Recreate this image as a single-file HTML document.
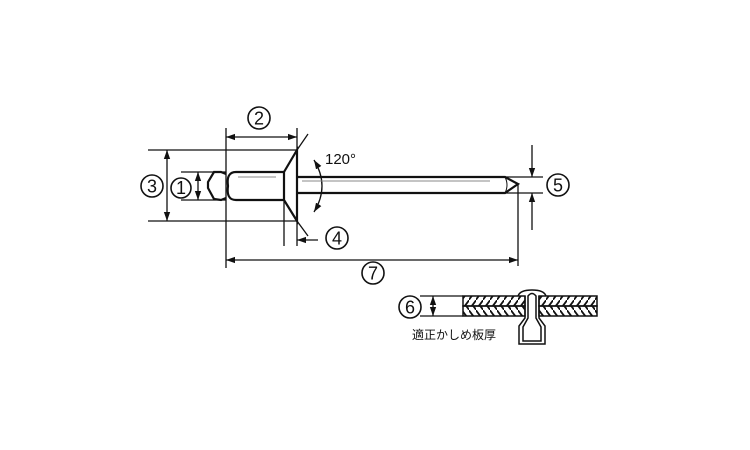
<!DOCTYPE html>
<html><head><meta charset="utf-8"><style>
html,body{margin:0;padding:0;background:#fff;}
svg{display:block;}
text{font-family:"Liberation Sans","Noto Sans CJK JP",sans-serif;fill:#111;}
</style></head><body>
<svg width="750" height="450" viewBox="0 0 750 450" xmlns="http://www.w3.org/2000/svg">
<defs>
<marker id="a" viewBox="0 0 10 10" refX="10" refY="5" markerWidth="9" markerHeight="9" orient="auto-start-reverse" markerUnits="userSpaceOnUse"><path d="M0,1.5 L10,5 L0,8.5 z" fill="#111"/></marker>
<pattern id="h1" width="7" height="10" patternUnits="userSpaceOnUse"><path d="M-1,11 L8,-1" stroke="#111" stroke-width="1.8"/></pattern>
<pattern id="h2" width="7" height="10" patternUnits="userSpaceOnUse"><path d="M-1,-1 L8,11" stroke="#111" stroke-width="1.8"/></pattern>
</defs>
<g stroke="#111" fill="none" stroke-width="1.3">
<line x1="226" y1="128" x2="226" y2="268"/>
<line x1="297" y1="128" x2="297" y2="246"/>
<line x1="284" y1="200" x2="284" y2="246"/>
<line x1="148" y1="150" x2="297" y2="150"/>
<line x1="148" y1="221" x2="297" y2="221"/>
<line x1="181" y1="172" x2="226" y2="172"/>
<line x1="181" y1="200" x2="226" y2="200"/>
<line x1="518" y1="184" x2="518" y2="266"/>
<line x1="505" y1="177" x2="543" y2="177"/>
<line x1="505" y1="193" x2="543" y2="193"/>
<line x1="297" y1="150" x2="308" y2="134"/>
<line x1="297" y1="221" x2="308" y2="236"/>
<line x1="226" y1="137" x2="297" y2="137" marker-start="url(#a)" marker-end="url(#a)"/>
<line x1="167" y1="150" x2="167" y2="221" marker-start="url(#a)" marker-end="url(#a)"/>
<line x1="198" y1="172" x2="198" y2="200" marker-start="url(#a)" marker-end="url(#a)"/>
<line x1="226" y1="260" x2="518" y2="260" marker-start="url(#a)" marker-end="url(#a)"/>
<line x1="318" y1="240" x2="297" y2="240" marker-end="url(#a)"/>
<line x1="532" y1="145" x2="532" y2="177" marker-end="url(#a)"/>
<line x1="532" y1="230" x2="532" y2="193" marker-end="url(#a)"/>
<path d="M314,160 Q330,186 314,212" marker-start="url(#a)" marker-end="url(#a)"/>
<line x1="433" y1="296" x2="433" y2="316" marker-start="url(#a)" marker-end="url(#a)"/>
<line x1="420" y1="296" x2="463" y2="296"/>
<line x1="420" y1="316" x2="463" y2="316"/>
</g>
<g stroke="#111" fill="none" stroke-width="2.2">
<path d="M226,174 L221,172 L214,172 L208,182 L208,188 L214,199 L221,200 L226,198"/>
<path d="M284,172 L236,172 Q226,172 228,186 Q226,200 236,200 L284,200"/>
<path d="M284,172 L297,150 L297,221 L284,200 Z"/>
<path d="M297,177 L505,177 L518,184 L505,193 L297,193"/>
</g>
<g stroke="#888" stroke-width="1">
<line x1="238" y1="177" x2="276" y2="177"/>
<line x1="302" y1="181" x2="490" y2="181"/>
<path d="M505,177 Q509,185 505,193" fill="none" stroke="#111"/>
</g>
<rect x="463" y="296" width="62" height="10" fill="url(#h1)" stroke="#111" stroke-width="1.5"/>
<rect x="463" y="306" width="62" height="10" fill="url(#h2)" stroke="#111" stroke-width="1.5"/>
<rect x="539" y="296" width="58" height="10" fill="url(#h1)" stroke="#111" stroke-width="1.5"/>
<rect x="539" y="306" width="58" height="10" fill="url(#h2)" stroke="#111" stroke-width="1.5"/>
<g stroke="#111" fill="none" stroke-width="1.5">
<path d="M518,296 Q520,290 532,290 Q544,290 546,296"/>
<path d="M525,296 L525,318 L519,326 L519,344 L545,344 L545,326 L539,318 L539,296"/>
<path d="M528,296 Q532,291 536,296 L536,318 L541,327 L541,341 L523,341 L523,327 L528,318 Z"/>
</g>
<g fill="none" stroke="#111" stroke-width="1.6">
<circle cx="259" cy="118" r="11"/>
<circle cx="152" cy="186" r="11"/>
<circle cx="181" cy="188" r="10"/>
<circle cx="337" cy="238" r="11"/>
<circle cx="558" cy="185" r="11"/>
<circle cx="373" cy="273" r="11"/>
<circle cx="410" cy="307" r="11"/>
</g>
<g font-size="18" text-anchor="middle">
<text x="259" y="124.5">2</text>
<text x="152" y="192.5">3</text>
<text x="181" y="194">1</text>
<text x="337" y="244.5">4</text>
<text x="558" y="191.5">5</text>
<text x="373" y="279.5">7</text>
<text x="410" y="313.5">6</text>
</g>
<text x="325" y="164" font-size="15">120°</text>
<text x="412" y="339" font-size="12">適正かしめ板厚</text>
</svg>
</body></html>
